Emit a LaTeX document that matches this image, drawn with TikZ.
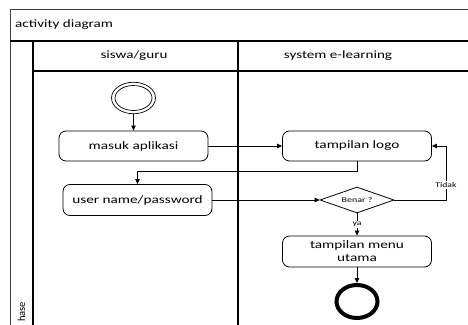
\documentclass[tikz,border=0pt]{standalone}
\usepackage{fontspec}
\setmainfont{Carlito}[FakeStretch=1.35]
\newfontfamily\rotfont{Carlito}
\usetikzlibrary{shapes.geometric,arrows.meta}
\begin{document}
\begin{tikzpicture}[x=1pt,y=-1pt,
  frameline/.style={draw=black!75,line width=0.9pt},
  laneline/.style={draw=black,line width=1.3pt},
  hdr/.style={font=\fontsize{11.2}{13}\selectfont,inner sep=0pt},
  act/.style={draw=black,line width=0.8pt,rectangle,rounded corners=7pt,
    minimum width=149pt,align=center,inner sep=0pt,
    font=\fontsize{11.3}{13}\selectfont},
  dec/.style={draw=black,line width=0.8pt,diamond,aspect=2.85,inner sep=0pt,
    minimum width=74pt,minimum height=26pt,font=\fontsize{7.4}{9}\selectfont},
  lbl/.style={fill=white,inner sep=1pt,font=\fontsize{7.2}{9}\selectfont},
  arr/.style={draw=black,line width=0.8pt,-{Triangle[length=5pt,width=4.5pt]}}]
\useasboundingbox (0,0) rectangle (468,324);
\clip (0,0) rectangle (468,324);
% frame
\draw[frameline] (10,340) -- (10,9) -- (480,9);
\draw[laneline] (10,41) -- (480,41);
\draw[laneline] (33,41) -- (33,340);
\draw[laneline] (33,71) -- (480,71);
\draw[laneline] (238,41) -- (238,340);
\node[hdr,anchor=west] (title) at (15,25) {activity diagram};
\node[hdr] (lane1) at (134,56) {siswa/guru};
\node[hdr] (lane2) at (338,56) {system e-learning};
\node[rotate=90,anchor=base west,inner sep=0pt,font=\rotfont\fontsize{10.5}{12}\selectfont] (phase) at (25,322) {hase};
% nodes
\node[ellipse,draw=black,line width=0.7pt,minimum width=44pt,minimum height=31.5pt,inner sep=0pt] (start) at (133.5,98) {};
\node[ellipse,draw=black,line width=0.7pt,minimum width=37pt,minimum height=25pt,inner sep=0pt] (starti) at (133.5,98) {};
\node[act,minimum height=30pt] (masuk) at (133.5,146) {masuk aplikasi};
\node[act,minimum height=30pt] (logo) at (357,146) {tampilan logo};
\node[act,minimum height=31pt] (user) at (137.5,200) {user name/password};
\node[dec] (dia) at (357,200) {Benar ?};
\node[act,minimum height=31pt] (menu) at (357,251.5) {tampilan menu\\utama};
\node[ellipse,draw=black,line width=4pt,minimum width=41pt,minimum height=33pt,inner sep=0pt] (end) at (357,301.5) {};
\coordinate (tk) at (446,200);
% connectors
\draw[arr] (start) -- (masuk);
\draw[arr] (masuk) -- (logo);
\draw[arr] (logo.south) -- ++(0,10) -| (user.north);
\draw[arr] (user) -- (dia);
\draw[arr] (dia.east) -- (tk) |- (logo.east);
\node[lbl] (tidak) at (446,185) {Tidak};
\draw[arr] (dia.south) -- node[lbl] (ya) {ya} (menu.north);
\draw[arr] (menu) -- (end);
\end{tikzpicture}
\end{document}
